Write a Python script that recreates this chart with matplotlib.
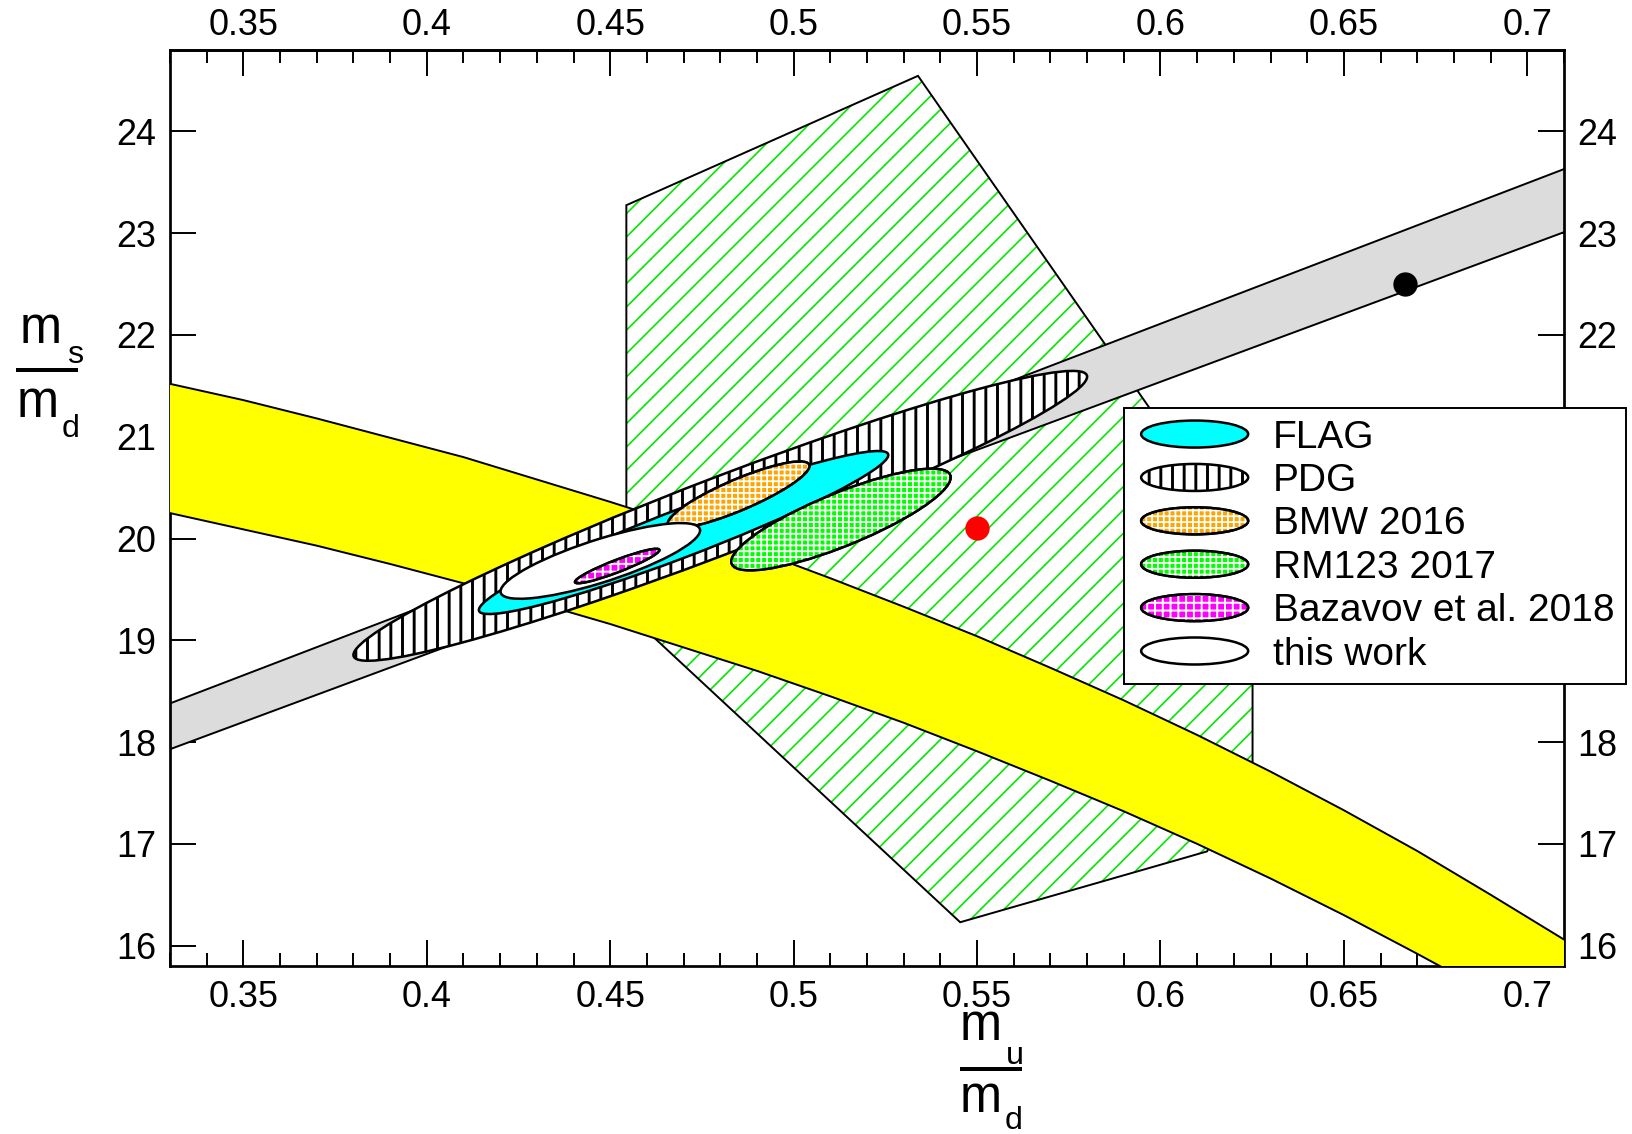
import numpy as np
import matplotlib
matplotlib.use("Agg")
import matplotlib.pyplot as plt
from matplotlib.patches import Polygon, Circle, Ellipse, Patch
from matplotlib.transforms import Affine2D
from matplotlib.legend_handler import HandlerBase
from matplotlib.lines import Line2D
from matplotlib.ticker import MultipleLocator

W, H, DPI = 1632, 1134, 140
PX = 72.0 / DPI  # points per pixel
plt.rcParams['font.family'] = ['Liberation Sans', 'DejaVu Sans']

# ---------------- data ----------------
x_ticks = [0.35, 0.40, 0.45, 0.50, 0.55, 0.60, 0.65, 0.70]
x_tick_labels = ['0.35', '0.4', '0.45', '0.5', '0.55', '0.6', '0.65', '0.7']
y_ticks = [16, 17, 18, 19, 20, 21, 22, 23, 24]
y_tick_labels = ['16', '17', '18', '19', '20', '21', '22', '23', '24']
x_range = [0.33, 0.71]
y_range = [15.8, 24.8]

# grey band (straight)
gray_x = [0.33, 0.71]
gray_lower = [17.93, 23.01]
gray_upper = [18.38, 23.63]

# yellow band (curved)
yellow_x = [0.33, 0.35, 0.37, 0.39, 0.41, 0.43, 0.45, 0.47, 0.49, 0.51,
            0.53, 0.55, 0.57, 0.59, 0.61, 0.63, 0.65, 0.67, 0.69, 0.71]
yellow_upper = [21.52, 21.36, 21.18, 20.99, 20.80, 20.58, 20.36, 20.13, 19.88, 19.61,
                19.33, 19.04, 18.73, 18.41, 18.07, 17.71, 17.33, 16.93, 16.50, 16.06]
yellow_lower = [20.25, 20.09, 19.93, 19.75, 19.56, 19.37, 19.16, 18.93, 18.70, 18.45,
                18.19, 17.91, 17.62, 17.32, 17.00, 16.66, 16.30, 15.92, 15.53, 15.10]

# green hatched region
poly_x = [0.4544, 0.5339, 0.6251, 0.6251, 0.6127, 0.5454, 0.4544]
poly_y = [23.275, 24.546, 19.83, 17.775, 16.926, 16.23, 19.28]

# error ellipses: centre, half-extent in x and y, correlation
ell_names = ['PDG', 'FLAG', 'BMW 2016', 'RM123 2017', 'this work', 'Bazavov et al. 2018']
ell_cx = [0.480, 0.470, 0.485, 0.5129, 0.4473, 0.4519]
ell_cy = [20.223, 20.059, 20.43, 20.187, 19.78, 19.73]
ell_sx = [0.100, 0.0558, 0.0193, 0.0299, 0.0272, 0.0115]
ell_sy = [1.424, 0.801, 0.327, 0.499, 0.372, 0.169]
ell_rho = [0.960, 0.950, 0.863, 0.828, 0.806, 0.925]

# single points
pt_x = [0.55, 0.6667]
pt_y = [20.1, 22.5]
pt_colors = ['#ff0000', '#000000']

legend_order = ['FLAG', 'PDG', 'BMW 2016', 'RM123 2017', 'Bazavov et al. 2018', 'this work']

# ---------------- styles ----------------
styles = {
    'PDG':        dict(face='white',   hatch='||',   hcolor='black', hlw=1.5, z=4),
    'FLAG':       dict(face='#00ffff', hatch=None,   hcolor=None,    hlw=1.0, z=5),
    'BMW 2016':   dict(face='#ffa500', hatch='++++', hcolor='white', hlw=0.9, z=6),
    'RM123 2017': dict(face='#00ff00', hatch='++++', hcolor='white', hlw=0.9, z=7),
    'this work':  dict(face='white',   hatch=None,   hcolor=None,    hlw=1.0, z=8),
    'Bazavov et al. 2018': dict(face='#ff00ff', hatch='+++', hcolor='white', hlw=1.0, z=9),
}


def set_hlw(p, lw):
    try:
        p.set_hatch_linewidth(lw)
    except AttributeError:
        pass


fig = plt.figure(figsize=(W / DPI, H / DPI), dpi=DPI)
ax = fig.add_axes([170 / W, 1 - 966 / H, (1564 - 170) / W, (966 - 50) / H])
ax.set_xlim(*x_range)
ax.set_ylim(*y_range)

# green hatched polygon
verts = np.column_stack([poly_x, poly_y])
with plt.rc_context({'hatch.linewidth': 0.85}):
    ph = Polygon(verts, closed=True, facecolor='none', edgecolor='#00e600',
                 hatch='//', linewidth=0, zorder=1)
set_hlw(ph, 0.85)
ax.add_patch(ph)
ax.add_patch(Polygon(verts, closed=True, fill=False, edgecolor='black',
                     linewidth=1.0, zorder=1.1))

# grey band
ax.fill_between(gray_x, gray_lower, gray_upper, facecolor='#dcdcdc',
                edgecolor='none', zorder=2)
ax.plot(gray_x, gray_lower, color='black', lw=1.0, zorder=2.1)
ax.plot(gray_x, gray_upper, color='black', lw=1.0, zorder=2.1)

# yellow band
ax.fill_between(yellow_x, yellow_lower, yellow_upper, facecolor='#ffff00',
                edgecolor='none', zorder=3)
ax.plot(yellow_x, yellow_lower, color='black', lw=1.0, zorder=3.1)
ax.plot(yellow_x, yellow_upper, color='black', lw=1.0, zorder=3.1)

# ellipses
for i, name in enumerate(ell_names):
    st = styles[name]
    sx, sy, r = ell_sx[i], ell_sy[i], ell_rho[i]
    M = Affine2D(np.array([[sx, 0.0, ell_cx[i]],
                           [r * sy, sy * np.sqrt(1 - r * r), ell_cy[i]],
                           [0.0, 0.0, 1.0]]))
    tr = M + ax.transData
    if name == 'PDG':
        with plt.rc_context({'hatch.linewidth': st['hlw']}):
            p = Circle((0, 0), 1, transform=tr, facecolor='white', edgecolor='black',
                       hatch=st['hatch'], linewidth=1.3, zorder=st['z'])
        set_hlw(p, st['hlw'])
        ax.add_patch(p)
    else:
        ax.add_patch(Circle((0, 0), 1, transform=tr, facecolor=st['face'],
                            edgecolor='black', linewidth=1.3, zorder=st['z']))
        if st['hatch']:
            with plt.rc_context({'hatch.linewidth': st['hlw']}):
                q = Circle((0, 0), 1, transform=tr, facecolor='none',
                           edgecolor=st['hcolor'], hatch=st['hatch'],
                           linewidth=0, zorder=st['z'] + 0.01)
            set_hlw(q, st['hlw'])
            ax.add_patch(q)
            ax.add_patch(Circle((0, 0), 1, transform=tr, fill=False,
                                edgecolor='black', linewidth=1.3, zorder=st['z'] + 0.02))

# points
for x, y, c in zip(pt_x, pt_y, pt_colors):
    ax.plot([x], [y], 'o', color=c, markersize=12.5, markeredgewidth=0, zorder=12)

# ---------------- axes ----------------
ax.set_xticks(x_ticks, x_tick_labels)
ax.set_yticks(y_ticks, y_tick_labels)
ax.xaxis.set_minor_locator(MultipleLocator(0.01))
ax.tick_params(which='both', direction='in', top=True, right=True,
               labeltop=False, labelright=True, labelsize=18.5, pad=7, width=1.0)
ax.tick_params(which='major', length=13.4)
ax.tick_params(which='minor', length=6.7)
for s in ax.spines.values():
    s.set_linewidth(1.4)

# top tick labels (own padding)
secx = ax.secondary_xaxis('top')
secx.set_xticks(x_ticks, x_tick_labels)
secx.tick_params(which='both', direction='in', length=0, labelsize=18.5, pad=3.6)
secx.spines['top'].set_linewidth(1.4)


# ---------------- legend ----------------
class EllHandler(HandlerBase):
    def __init__(self, st):
        super().__init__()
        self.st = st

    def create_artists(self, legend, orig_handle, xdescent, ydescent,
                       width, height, fontsize, trans):
        st = self.st
        ew, eh = 107 * PX, 27 * PX
        cx = -xdescent + 5.5 * PX + ew / 2
        cy = -ydescent + height / 2
        arts = []
        if st['hatch'] and st['hcolor'] == 'black':
            with plt.rc_context({'hatch.linewidth': st['hlw']}):
                e = Ellipse((cx, cy), ew, eh, facecolor='white', edgecolor='black',
                            hatch=st['hatch'], linewidth=1.3, transform=trans)
            set_hlw(e, st['hlw'])
            arts.append(e)
        else:
            arts.append(Ellipse((cx, cy), ew, eh, facecolor=st['face'],
                                edgecolor='black', linewidth=1.3, transform=trans))
            if st['hatch']:
                with plt.rc_context({'hatch.linewidth': st['hlw']}):
                    q = Ellipse((cx, cy), ew, eh, facecolor='none',
                                edgecolor=st['hcolor'], hatch=st['hatch'],
                                linewidth=0, transform=trans)
                set_hlw(q, st['hlw'])
                arts.append(q)
                arts.append(Ellipse((cx, cy), ew, eh, fill=False, edgecolor='black',
                                    linewidth=1.3, transform=trans))
        return arts


handles = [Patch(label=n) for n in legend_order]
hmap = {h: EllHandler(styles[n]) for h, n in zip(handles, legend_order)}
fs = 20
leg = ax.legend(handles=handles, labels=legend_order, handler_map=hmap,
                loc='upper left', bbox_to_anchor=(1124 / W, 1 - 408 / H),
                bbox_transform=fig.transFigure, borderaxespad=0,
                fontsize=fs, frameon=True, fancybox=False, framealpha=1,
                edgecolor='black', borderpad=0.3, labelspacing=0.19,
                handlelength=120 * PX / fs, handletextpad=17.3 * PX / fs,
                handleheight=0.7)
leg.get_frame().set_linewidth(1.0)
leg.set_zorder(20)


# ---------------- fraction axis labels ----------------
def ftext(xpx, ybase, s, size):
    fig.text(xpx / W, 1 - ybase / H, s, fontsize=size, ha='left', va='baseline')


def fbar(x0, x1, y):
    fig.add_artist(Line2D([x0 / W, x1 / W], [1 - y / H, 1 - y / H], color='black',
                          lw=4 * PX, solid_capstyle='butt', transform=fig.transFigure))


big, small = 26, 16.5
# y label  m_s / m_d
ftext(20, 343, 'm', big)
ftext(67, 363, 's', small)
fbar(16, 78, 370)
ftext(17, 417, 'm', big)
ftext(62, 437, 'd', small)
# x label  m_u / m_d
ftext(960, 1040, 'm', big)
ftext(1006, 1064, 'u', small)
fbar(960, 1022, 1069)
ftext(960, 1112, 'm', big)
ftext(1005, 1129, 'd', small)

fig.savefig('out.png', dpi=DPI)
